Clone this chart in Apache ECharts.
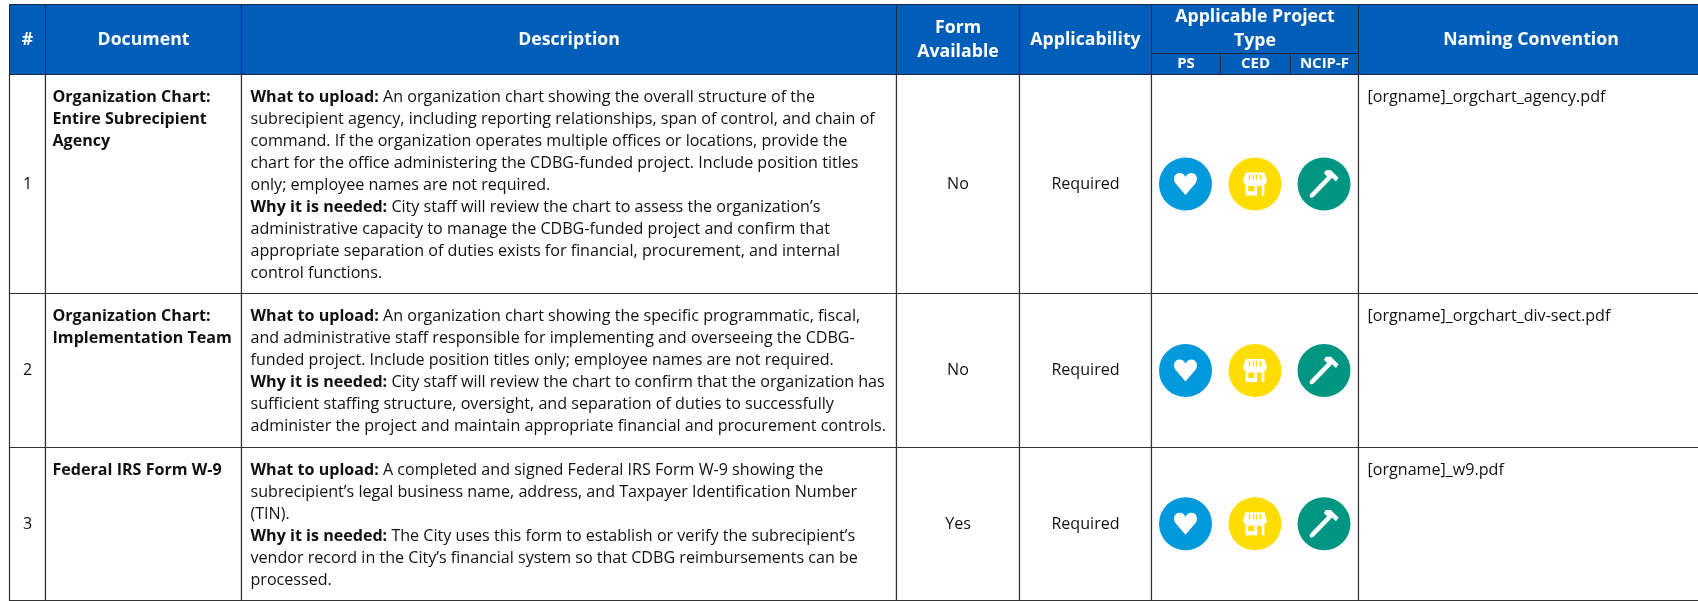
<!DOCTYPE html>
<html><head><meta charset="utf-8">
<script src="https://cdn.jsdelivr.net/npm/echarts@6/dist/echarts.min.js"></script>
<style>html,body{margin:0;padding:0;background:#fff}#c{width:1698px;height:601px}</style></head>
<body><div id="c"></div>
<script>
const headers = ['#','Document','Description','Form\nAvailable','Applicability','Applicable Project\nType','Naming Convention'];
const projectTypes = ['PS','CED','NCIP-F'];
const rows = ['1','2','3'];
const documents = ['Organization Chart:\nEntire Subrecipient\nAgency','Organization Chart:\nImplementation Team','Federal IRS Form W-9'];
const descriptions = [
 '{b|What to upload:} An organization chart showing the overall structure of the\nsubrecipient agency, including reporting relationships, span of control, and chain of\ncommand. If the organization operates multiple offices or locations, provide the\nchart for the office administering the CDBG-funded project. Include position titles\nonly; employee names are not required.\n{b|Why it is needed:} City staff will review the chart to assess the organization’s\nadministrative capacity to manage the CDBG-funded project and confirm that\nappropriate separation of duties exists for financial, procurement, and internal\ncontrol functions.',
 '{b|What to upload:} An organization chart showing the specific programmatic, fiscal,\nand administrative staff responsible for implementing and overseeing the CDBG-\nfunded project. Include position titles only; employee names are not required.\n{b|Why it is needed:} City staff will review the chart to confirm that the organization has\nsufficient staffing structure, oversight, and separation of duties to successfully\nadminister the project and maintain appropriate financial and procurement controls.',
 '{b|What to upload:} A completed and signed Federal IRS Form W-9 showing the\nsubrecipient’s legal business name, address, and Taxpayer Identification Number\n(TIN).\n{b|Why it is needed:} The City uses this form to establish or verify the subrecipient’s\nvendor record in the City’s financial system so that CDBG reimbursements can be\nprocessed.'
];
const formAvailable = ['No','No','Yes'];
const applicability = ['Required','Required','Required'];
const namingConvention = ['[orgname]_orgchart_agency.pdf','[orgname]_orgchart_div-sect.pdf','[orgname]_w9.pdf'];
const typeColors = ['#0099DC','#FFDD00','#009681'];
const typeGlyphs = [
 'path://M12 22.5 L2.5 11.5 C0 8 1 3 5 2 C8 1.3 10.5 2.7 12 5.5 C13.5 2.7 16 1.3 19 2 C23 3 24 8 21.5 11.5 Z',
 'path://M3 1 H21 L23.5 9 Q23.5 12 21 12 V23 H3 V12 Q.5 12 .5 9 Z M6 3 V8 H7.5 V3 Z M10 3 V8 H11.2 V3 Z M13 3 V8 H14.3 V3 Z M16.5 3 V8 H18 V3 Z M5.5 14 V19 H11.5 V14 Z M14 14 V23 H18.5 V14 Z',
 'path://M14 1 L18 1 L24 7 L22 10 L19 7 L17.5 8.5 L4.5 22 Q2.5 23.5 1.5 22.5 Q.5 21 2 19.5 L15 6 L12.5 3.5 Z'
];
const glyphSizes = [23,24,29];
const colSizes = [36,196,655,123,132,69,70,68,345];
const rowSizes = [49,21,219,154,152];
const FONT = '"Open Sans"', INK = '#111', LINE = '#333', BLUE = '#005EB8';

const colNames = ['num','doc','desc','form','app',...projectTypes,'name'];
const rowNames = ['h1','h2',...rows];
const plain = {fontFamily:FONT,fontSize:16.1,color:INK,lineHeight:22,overflow:'none',lineOverflow:'none'};
const centred = {...plain,padding:[2,0,0,0]};
const topLeft = {position:'insideTopLeft',align:'left',verticalAlign:'top',padding:[11.5,9,0,9]};
const head = {fontFamily:FONT,fontWeight:'bold',fontSize:17.7,lineHeight:24,color:'#fff',overflow:'none',lineOverflow:'none'};
const headStyle = {color:BLUE,borderColor:'#1a2a44',borderWidth:1};
const body = [];
[[0,0],[1,1],[2,2],[3,3],[4,4],[8,6]].forEach(([c,h])=>{
  body.push({coord:[c,[0,1]],mergeCells:true,value:headers[h],label:head,itemStyle:headStyle});
});
body.push({coord:[[5,7],0],mergeCells:true,value:headers[5],label:head,itemStyle:headStyle});
projectTypes.forEach((t,k)=>body.push({coord:[5+k,1],value:t,label:{...head,fontSize:15,lineHeight:18},itemStyle:headStyle}));
rows.forEach((r,i)=>{
  const y = i+2;
  body.push({coord:[0,y],value:r,label:centred});
  body.push({coord:[1,y],value:documents[i],label:{...plain,...topLeft,padding:[11.5,7,0,7],fontWeight:'bold'}});
  body.push({coord:[2,y],value:descriptions[i],label:{...plain,...topLeft,rich:{b:{...plain,fontWeight:'bold'}}}});
  body.push({coord:[3,y],value:formAvailable[i],label:centred});
  body.push({coord:[4,y],value:applicability[i],label:centred});
  body.push({coord:[[5,7],y],value:'',mergeCells:true});
  body.push({coord:[8,y],value:namingConvention[i],label:{...plain,...topLeft}});
});
const iconSeries = [];
const iconCols = colSizes.slice(5,8), iconTotal = iconCols.reduce((a,b)=>a+b,0);
projectTypes.forEach((t,k)=>{
  const pts = rows.map(r=>[t,r]);
  const off = iconCols.slice(0,k).reduce((a,b)=>a+b,0)+iconCols[k]/2-iconTotal/2;
  iconSeries.push({type:'scatter',coordinateSystem:'matrix',symbol:'circle',symbolSize:53,symbolOffset:[off,0],data:pts,
    itemStyle:{color:typeColors[k],opacity:1},silent:true,z:5});
  iconSeries.push({type:'scatter',coordinateSystem:'matrix',symbol:typeGlyphs[k],symbolKeepAspect:true,symbolSize:glyphSizes[k],symbolOffset:[off,0],data:pts,
    itemStyle:{color:'#fff',opacity:1},silent:true,z:6});
});
const chart = echarts.init(document.getElementById('c'),null,{renderer:'canvas'});
chart.setOption({
  backgroundColor:'#fff',animation:false,
  matrix:{
    left:9,top:4.5,right:-5,bottom:1,
    x:{show:false,data:colNames.map((c,i)=>({value:c,size:colSizes[i]}))},
    y:{show:false,data:rowNames.map((r,i)=>({value:r,size:rowSizes[i]}))},
    body:{data:body,itemStyle:{color:'#fff',borderColor:LINE,borderWidth:1.2},label:{...plain}},
    backgroundStyle:{color:'#fff',borderColor:LINE,borderWidth:1}
  },
  series:iconSeries
});
</script></body></html>
